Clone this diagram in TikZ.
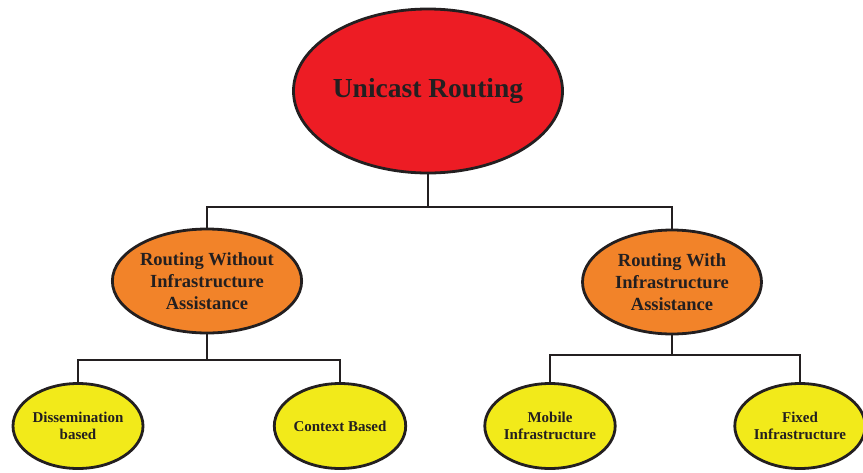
\documentclass[tikz,border=0pt]{standalone}
\usepackage{fontspec}
\setmainfont{Liberation Serif}
\usetikzlibrary{shapes.geometric}
\definecolor{rootred}{HTML}{ED1C24}
\definecolor{midorange}{HTML}{F28329}
\definecolor{leafyellow}{HTML}{F2EA1A}
\definecolor{inkdark}{HTML}{231F20}
\begin{document}
\begin{tikzpicture}[x=1pt,y=-1pt,
  oval/.style={ellipse,draw=inkdark,line width=2.8pt,inner sep=0pt,
    align=center,text=inkdark,font=\bfseries},
  rootoval/.style={oval,fill=rootred,minimum width=263pt,minimum height=164pt,
    font=\bfseries\fontsize{27.5}{30}\selectfont},
  midoval/.style={oval,fill=midorange,minimum width=179pt,minimum height=104pt,
    font=\bfseries\fontsize{18.5}{22}\selectfont},
  leafoval/.style={oval,fill=leafyellow,minimum width=130pt,minimum height=85pt,
    font=\bfseries\fontsize{15}{17.5}\selectfont},
  link/.style={draw=inkdark,line width=2.6pt}]
\useasboundingbox (0,0) rectangle (863,472);
% junction points of the tree connectors
\coordinate (j0) at (428,207);
\coordinate (j1) at (207,360);
\coordinate (j2) at (672,355);
% the ovals
\node[rootoval] (root) at (428,91) {Unicast Routing};
\node[midoval] (without) at (207,281) {Routing Without\\Infrastructure\\Assistance};
\node[midoval] (with) at (672,282) {Routing With\\Infrastructure\\Assistance};
\node[leafoval] (dissem) at (78,426) {Dissemination\\based};
\node[leafoval] (context) at (340,426) {Context Based};
\node[leafoval] (mobile) at (550,426) {Mobile\\Infrastructure};
\node[leafoval] (fixed) at (800,426) {Fixed\\Infrastructure};
% elbow connectors
\draw[link] (root.south) -- (j0);
\draw[link] (without.north) |- (j0) -| (with.north);
\draw[link] (without.south) -- (j1);
\draw[link] (dissem.north) |- (j1) -| (context.north);
\draw[link] (with.south) -- (j2);
\draw[link] (mobile.north) |- (j2) -| (fixed.north);
\end{tikzpicture}
\end{document}
